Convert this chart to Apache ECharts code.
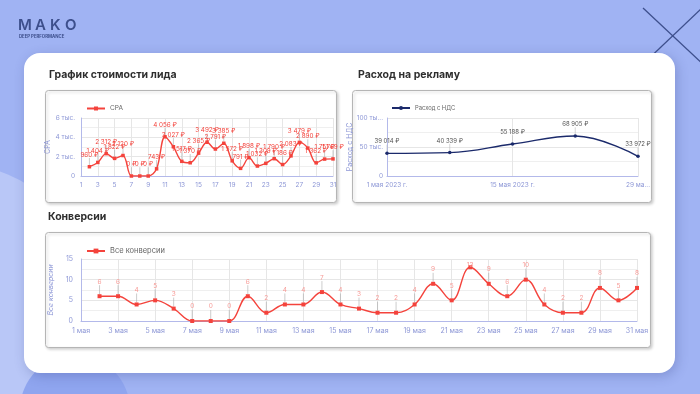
<!DOCTYPE html>
<html><head><meta charset="utf-8">
<script src="https://cdn.jsdelivr.net/npm/echarts@6/dist/echarts.min.js"></script>
<style>html,body{margin:0;padding:0;background:#a0b3f3}#c{width:700px;height:394px}</style>
</head><body><div id="c"></div><script>
// ---- data ----
const cpaDays = ['1','2','3','4','5','6','7','8','9','10','11','12','13','14','15','16','17','18','19','20','21','22','23','24','25','26','27','28','29','30','31'];
const cpaValues = [null,960,1404,2312,1822,2120,0,0,0,743,4056,3027,1517,1370,2365,3492,2791,3385,1572,791,1898,1032,1309,1790,1186,2083,3479,2890,1362,1751,1769];
const spendDates = ['1 мая 2023 г.','8 мая 2023 г.','15 мая 2023 г.','22 мая 2023 г.','29 мая 2023 г.'];
const spendValues = [39014,40339,55188,68905,33972];
const convDates = ['1 мая','2 мая','3 мая','4 мая','5 мая','6 мая','7 мая','8 мая','9 мая','10 мая','11 мая','12 мая','13 мая','14 мая','15 мая','16 мая','17 мая','18 мая','19 мая','20 мая','21 мая','22 мая','23 мая','24 мая','25 мая','26 мая','27 мая','28 мая','29 мая','30 мая','31 мая'];
const convValues = [null,6,6,4,5,3,0,0,0,6,2,4,4,7,4,3,2,2,4,9,5,13,9,6,10,4,2,2,8,5,8];
const cpaTicks = ['0','2 тыс.','4 тыс.','6 тыс.'];
const spendTicks = ['0','50 тыс.','100 ты...'];
const titles = ['График стоимости лида','Расход на рекламу','Конверсии'];
const logoLetters = ['M','A','K','O'];

// ---- render ----
const F = 'Inter, "Noto Sans", sans-serif';
const RED = '#f4433c', NAVY = '#1b2a6b', AX = '#8d97d6', AXL = '#b3b9ea', GRID = '#e6e6e6';
const fmt = n => String(n).replace(/\B(?=(\d{3})+(?!\d))/g, ' ');
const chart = echarts.init(document.getElementById('c'));

function panel(x, y, w, h) {
  return {type:'rect', z:-5, shape:{x:x, y:y, width:w, height:h, r:3},
    style:{fill:'#fff', stroke:'#b5b5b5', lineWidth:1, shadowBlur:3, shadowOffsetX:1.5, shadowOffsetY:1.5, shadowColor:'rgba(0,0,0,0.18)'}};
}
const graphics = [
  {type:'circle', z:-20, shape:{cx:-40, cy:290, r:125}, style:{fill:'#b9c7f7'}},
  {type:'circle', z:-19, shape:{cx:75, cy:410, r:55}, style:{fill:'#8fa5ef'}},
  {type:'line', z:-18, shape:{x1:643, y1:8, x2:720, y2:80}, style:{stroke:'#3d4f8c', lineWidth:1.3}},
  {type:'line', z:-18, shape:{x1:600, y1:105, x2:702, y2:8}, style:{stroke:'#3d4f8c', lineWidth:1.3}},
  {type:'text', z:-18, left:19, top:34.5, style:{text:'DEEP PERFORMANCE', font:'bold 4.3px ' + F, fill:'#3d4f8c'}},
  {type:'rect', z:-10, shape:{x:24, y:53, width:651, height:320, r:16},
    style:{fill:'#fff', shadowBlur:12, shadowOffsetX:2, shadowOffsetY:3, shadowColor:'rgba(40,50,120,0.25)'}},
  {type:'text', z:-4, left:49, top:69, style:{text:titles[0], font:'bold 10.5px ' + F, fill:'#2e2e2e'}},
  {type:'text', z:-4, left:358, top:69, style:{text:titles[1], font:'bold 10.5px ' + F, fill:'#2e2e2e'}},
  {type:'text', z:-4, left:48, top:211, style:{text:titles[2], font:'bold 10.5px ' + F, fill:'#2e2e2e'}},
  panel(45.5, 90.5, 291, 112),
  panel(352.5, 90.5, 299, 112),
  panel(45.5, 232.5, 605, 115)
];
logoLetters.forEach((ch, i) => graphics.push(
  {type:'text', z:-18, x:[18, 35, 50, 65][i], y:18, style:{text:ch, font:'600 15px ' + F, fill:'#3d4f8c'}}));

const axLabel = {color:AX, fontSize:6.5, fontFamily:F};
const legendText = {color:'#666', fontSize:6.5, fontFamily:F};

const option = {
  animation:false,
  textStyle:{fontFamily:F},
  graphic:graphics,
  legend:[
    {data:['CPA'], left:81, top:100, itemWidth:18, itemHeight:5, itemGap:4, textStyle:legendText},
    {data:['Расход с НДС'], left:386, top:100, itemWidth:18, itemHeight:5, textStyle:{color:'#666', fontSize:5.8, fontFamily:F}},
    {data:['Все конверсии'], left:81, top:242, itemWidth:18, itemHeight:6, textStyle:{color:'#666', fontSize:7.5, fontFamily:F}}
  ],
  grid:[
    {left:81, top:118, width:252, height:58},
    {left:387, top:118, width:251, height:58},
    {left:81, top:259, width:556, height:62}
  ],
  xAxis:[
    {gridIndex:0, type:'category', data:cpaDays, boundaryGap:false,
      axisLine:{lineStyle:{color:AXL}}, axisTick:{show:false},
      axisLabel:Object.assign({interval:1, margin:6}, axLabel),
      splitLine:{show:true, interval:1, lineStyle:{color:GRID}}},
    {gridIndex:1, type:'category', data:spendDates, boundaryGap:false,
      axisLine:{lineStyle:{color:AXL}}, axisTick:{show:false},
      axisLabel:Object.assign({interval:1, margin:6, formatter:(v,i)=> i===4 ? '29 ма...' : v}, axLabel),
      splitLine:{show:true, interval:1, lineStyle:{color:GRID}}},
    {gridIndex:2, type:'category', data:convDates, boundaryGap:false,
      axisLine:{lineStyle:{color:AXL}}, axisTick:{show:false},
      axisLabel:Object.assign({interval:1, margin:6}, axLabel, {fontSize:7}),
      splitLine:{show:true, interval:1, lineStyle:{color:GRID}}}
  ],
  yAxis:[
    {gridIndex:0, type:'value', min:0, max:6000, interval:2000,
      name:'CPA', nameLocation:'middle', nameGap:24, nameTextStyle:{color:AX, fontSize:7, fontFamily:F},
      axisLine:{show:true, lineStyle:{color:AXL}}, axisTick:{show:false},
      axisLabel:Object.assign({formatter:(v)=>cpaTicks[v/2000], margin:6}, axLabel),
      splitLine:{lineStyle:{color:GRID}}, minorTick:{show:false, splitNumber:2},
      minorSplitLine:{show:true, lineStyle:{color:'#efefef'}}},
    {gridIndex:1, type:'value', min:0, max:100000, interval:50000,
      name:'Расход с НДС', nameLocation:'middle', nameGap:26, nameTextStyle:{color:AX, fontSize:7, fontFamily:F},
      axisLine:{show:true, lineStyle:{color:AXL}}, axisTick:{show:false},
      axisLabel:Object.assign({formatter:(v)=>spendTicks[v/50000], margin:4}, axLabel),
      splitLine:{lineStyle:{color:GRID}}, minorTick:{show:false, splitNumber:2},
      minorSplitLine:{show:true, lineStyle:{color:'#efefef'}}},
    {gridIndex:2, type:'value', min:0, max:15, interval:5,
      name:'Все конверсии', nameLocation:'middle', nameGap:22, nameTextStyle:{color:AX, fontSize:7, fontStyle:'italic', fontFamily:F},
      axisLine:{show:true, lineStyle:{color:AXL}}, axisTick:{show:false},
      axisLabel:Object.assign({margin:8}, axLabel, {fontSize:7}),
      splitLine:{lineStyle:{color:GRID}}, minorTick:{show:false, splitNumber:2},
      minorSplitLine:{show:true, lineStyle:{color:'#efefef'}}}
  ],
  series:[
    {name:'CPA', type:'line', xAxisIndex:0, yAxisIndex:0, data:cpaValues, smooth:0.35,
      symbol:'rect', symbolSize:3.5, itemStyle:{color:RED}, lineStyle:{color:RED, width:1.4},
      label:{show:true, position:'top', distance:2, color:RED, fontSize:6.3, fontFamily:F, formatter:p=>fmt(p.value)+' ₽'},
      labelLayout:{dy:-5}, labelLine:{show:true, lineStyle:{color:'#aaa', width:0.6}}},
    {name:'Расход с НДС', type:'line', xAxisIndex:1, yAxisIndex:1, data:spendValues, smooth:0.4,
      symbol:'circle', symbolSize:3.5, itemStyle:{color:NAVY}, lineStyle:{color:NAVY, width:1.4},
      label:{show:true, position:'top', distance:3, color:'#555', fontSize:6, fontFamily:F, formatter:p=>fmt(p.value)+' ₽'},
      labelLayout:{dy:-4}, labelLine:{show:true, lineStyle:{color:'#bbb', width:0.6}}},
    {name:'Все конверсии', type:'line', xAxisIndex:2, yAxisIndex:2, data:convValues, smooth:0.4,
      symbol:'rect', symbolSize:4, itemStyle:{color:RED}, lineStyle:{color:RED, width:1.4},
      label:{show:true, position:'top', distance:3, color:'#f79a96', fontSize:6.5, fontFamily:F},
      labelLayout:(p)=>({dy: convValues[p.dataIndex]===13 ? 6 : -6}), labelLine:{show:true, lineStyle:{color:'#aaa', width:0.6}}}
  ]
};
chart.setOption(option);
</script></body></html>
